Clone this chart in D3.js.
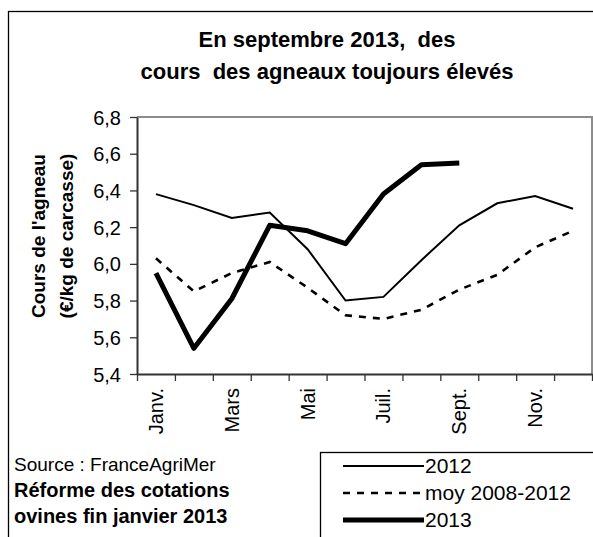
<!DOCTYPE html>
<html>
<head>
<meta charset="utf-8">
<script src="https://cdn.jsdelivr.net/npm/d3@7"></script>
<style>
  body { margin:0; background:#fff; }
  svg text { font-family: "Liberation Sans", Arial, sans-serif; fill:#000; white-space: pre; }
</style>
</head>
<body>
<div id="chart"></div>
<script>
// months (every other one is labelled)
let months = ["Janv.","Févr.","Mars","Avr.","Mai","Juin","Juil.","Août","Sept.","Oct.","Nov.","Déc."]
let shownMonths = ["Janv.","Mars","Mai","Juil.","Sept.","Nov."]
let yTicks = [5.4,5.6,5.8,6.0,6.2,6.4,6.6,6.8]
let values2012 = [6.38,6.32,6.25,6.28,6.08,5.80,5.82,6.02,6.21,6.33,6.37,6.30]
let valuesMoy  = [6.03,5.85,5.95,6.01,5.87,5.72,5.70,5.75,5.86,5.94,6.09,6.18]
let values2013 = [5.95,5.54,5.81,6.21,6.18,6.11,6.38,6.54,6.55]
let seriesNames = ["2012","moy 2008-2012","2013"]

function render(){
  let width = 593, height = 537,
      margin = { top:117, left:137, right:1, bottom:163 },
      innerWidth = width - margin.left - margin.right,
      innerHeight = height - margin.top - margin.bottom

  let svg = d3.select("#chart").append("svg")
    .attr("width",width).attr("height",height)

  // outer frame (runs off right / bottom)
  svg.append("rect").attr("x",8.5).attr("y",11.5).attr("width",700).attr("height",700)
    .attr("fill","none").attr("stroke","#000").attr("stroke-width",1.3)

  svg.append("text").attr("x",327).attr("y",47).attr("text-anchor","middle")
    .attr("font-size",22).attr("font-weight","bold").text("En septembre 2013,  des")
  svg.append("text").attr("x",327).attr("y",79).attr("text-anchor","middle")
    .attr("font-size",22).attr("font-weight","bold").text("cours  des agneaux toujours élevés")

  let g = svg.append("g").attr("transform",`translate(${margin.left},${margin.top})`)

  let xScale = d3.scaleBand().domain(months).range([0,innerWidth]).padding(0)
  let tickScale = d3.scaleLinear().domain([0,12]).range([0,innerWidth])
  let yScale = d3.scaleLinear().domain([5.4,6.8]).range([innerHeight,0])

  // grey top / right of plot frame
  g.append("path").attr("d",`M0,0H${innerWidth}V${innerHeight}`)
    .attr("fill","none").attr("stroke","#8c8c8c").attr("stroke-width",2)

  let yAxis = d3.axisLeft(yScale).tickValues(yTicks).tickSize(7).tickSizeOuter(0)
    .tickFormat(d => d3.format(".1f")(d).replace(".",","))
  let yGroup = g.append("g").call(yAxis)
  yGroup.select(".domain").attr("stroke","#333").attr("stroke-width",2)
  yGroup.selectAll(".tick line").attr("stroke","#333").attr("stroke-width",1.3)
  yGroup.selectAll(".tick text").attr("font-size",20).attr("x",-16).attr("dy","0.35em")
    .attr("font-family","Liberation Sans, Arial, sans-serif")

  let xAxis = d3.axisBottom(tickScale).ticks(12).tickSize(7).tickSizeOuter(0).tickFormat("")
  let xGroup = g.append("g").attr("transform",`translate(0,${innerHeight})`).call(xAxis)
  xGroup.select(".domain").attr("stroke","#333").attr("stroke-width",2)
  xGroup.selectAll(".tick line").attr("stroke","#333").attr("stroke-width",1.3)

  g.selectAll(".xlab").data(shownMonths).enter().append("text")
    .attr("class","xlab")
    .attr("transform",d => `translate(${xScale(d)+xScale.bandwidth()/2+7},${innerHeight+14}) rotate(-90)`)
    .attr("text-anchor","end").attr("font-size",20).text(d => d)

  // y title
  let yt = svg.append("g").attr("transform","translate(45,236) rotate(-90)")
  yt.append("text").attr("text-anchor","middle").attr("font-size",19).attr("font-weight","bold").text("Cours de l'agneau")
  yt.append("text").attr("y",28).attr("text-anchor","middle").attr("font-size",19).attr("font-weight","bold").text("(€/kg de carcasse)")

  let line = d3.line()
    .x((d,i) => xScale(months[i]) + xScale.bandwidth()/2)
    .y(d => yScale(d))

  g.append("path").attr("d",line(values2012)).attr("fill","none")
    .attr("stroke","#000").attr("stroke-width",2)
  g.append("path").attr("d",line(valuesMoy)).attr("fill","none")
    .attr("stroke","#000").attr("stroke-width",2.6).attr("stroke-dasharray","7,7")
  g.append("path").attr("d",line(values2013)).attr("fill","none")
    .attr("stroke","#000").attr("stroke-width",5).attr("stroke-linejoin","round")

  // source notes
  svg.append("text").attr("x",14).attr("y",471).attr("font-size",19).text("Source : FranceAgriMer")
  svg.append("text").attr("x",14).attr("y",497).attr("font-size",20).attr("font-weight","bold").text("Réforme des cotations")
  svg.append("text").attr("x",14).attr("y",523).attr("font-size",20).attr("font-weight","bold").text("ovines fin janvier 2013")

  // legend
  let legend = svg.append("g")
  legend.append("rect").attr("x",320.5).attr("y",452.5).attr("width",400).attr("height",200)
    .attr("fill","#fff").attr("stroke","#000").attr("stroke-width",1.3)
  let styles = [{w:2,dash:null},{w:2.6,dash:"7,7"},{w:5,dash:null}]
  let rows = legend.selectAll(".row").data(seriesNames).enter().append("g")
    .attr("transform",(d,i) => `translate(0,${466 + i*27})`)
  rows.append("line").attr("x1",343).attr("x2",424).attr("y1",0).attr("y2",0)
    .attr("stroke","#000").attr("stroke-width",(d,i) => styles[i].w)
    .attr("stroke-dasharray",(d,i) => styles[i].dash)
  rows.append("text").attr("x",425).attr("y",7).attr("font-size",21).text(d => d)
}
render()
</script>
</body>
</html>
